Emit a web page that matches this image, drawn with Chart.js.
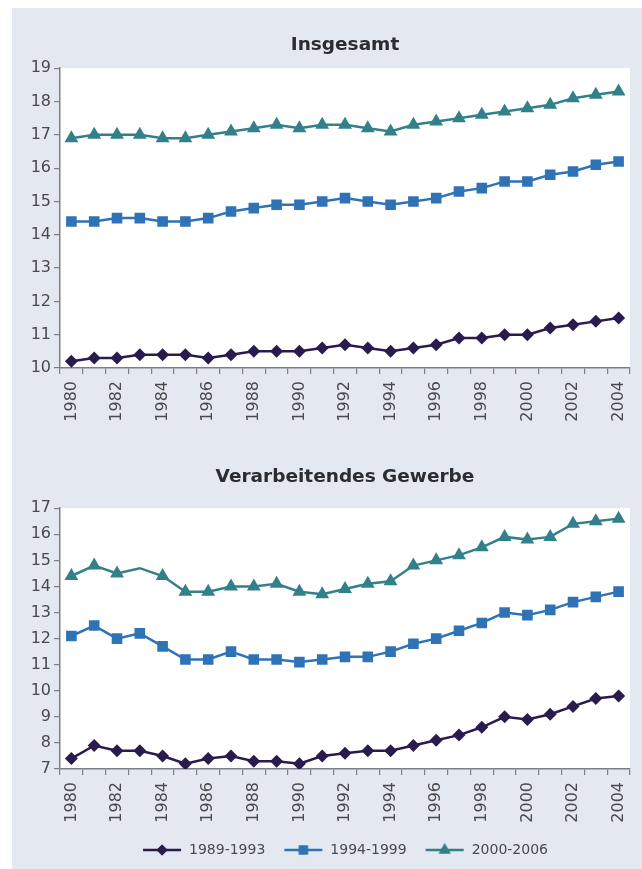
<!DOCTYPE html>
<html lang="de">
<head>
<meta charset="utf-8">
<title>Insgesamt / Verarbeitendes Gewerbe</title>
<script src="https://cdn.jsdelivr.net/npm/chart.js@4.4.1/dist/chart.umd.min.js"></script>
<style>
  html, body { margin: 0; padding: 0; background: #ffffff; }
  body { width: 642px; height: 869px; position: relative; overflow: hidden; }
  #sheet { position: absolute; left: 12px; top: 8px; width: 630px; height: 861px; background: #e4e8f0; }
  canvas { position: absolute; left: 12px; }
  #chartTop { top: 8px; }
  #chartBottom { top: 440px; }
</style>
</head>
<body>
<div id="sheet"></div>
<canvas id="chartTop" width="630" height="432"></canvas>
<canvas id="chartBottom" width="630" height="429"></canvas>
<script>
  // ---------- Data ----------
  const years = ["1980", "1981", "1982", "1983", "1984", "1985", "1986", "1987", "1988", "1989",
    "1990", "1991", "1992", "1993", "1994", "1995", "1996", "1997", "1998", "1999",
    "2000", "2001", "2002", "2003", "2004"];
  const seriesNames = ["1989-1993", "1994-1999", "2000-2006"];

  // Insgesamt
  const ins8993 = [10.2, 10.3, 10.3, 10.4, 10.4, 10.4, 10.3, 10.4, 10.5, 10.5, 10.5, 10.6, 10.7, 10.6, 10.5, 10.6, 10.7, 10.9, 10.9, 11.0, 11.0, 11.2, 11.3, 11.4, 11.5];
  const ins9499 = [14.4, 14.4, 14.5, 14.5, 14.4, 14.4, 14.5, 14.7, 14.8, 14.9, 14.9, 15.0, 15.1, 15.0, 14.9, 15.0, 15.1, 15.3, 15.4, 15.6, 15.6, 15.8, 15.9, 16.1, 16.2];
  const ins0006 = [16.9, 17.0, 17.0, 17.0, 16.9, 16.9, 17.0, 17.1, 17.2, 17.3, 17.2, 17.3, 17.3, 17.2, 17.1, 17.3, 17.4, 17.5, 17.6, 17.7, 17.8, 17.9, 18.1, 18.2, 18.3];
  const insTicks = [10, 19];

  // Verarbeitendes Gewerbe
  const gew8993 = [7.4, 7.9, 7.7, 7.7, 7.5, 7.2, 7.4, 7.5, 7.3, 7.3, 7.2, 7.5, 7.6, 7.7, 7.7, 7.9, 8.1, 8.3, 8.6, 9.0, 8.9, 9.1, 9.4, 9.7, 9.8];
  const gew9499 = [12.1, 12.5, 12.0, 12.2, 11.7, 11.2, 11.2, 11.5, 11.2, 11.2, 11.1, 11.2, 11.3, 11.3, 11.5, 11.8, 12.0, 12.3, 12.6, 13.0, 12.9, 13.1, 13.4, 13.6, 13.8];
  const gew0006 = [14.4, 14.8, 14.5, 14.7, 14.4, 13.8, 13.8, 14.0, 14.0, 14.1, 13.8, 13.7, 13.9, 14.1, 14.2, 14.8, 15.0, 15.2, 15.5, 15.9, 15.8, 15.9, 16.4, 16.5, 16.6];
  const gew0006NoMarker = ["1983"]; // im Original ohne Dreieck
  const gewTicks = [7, 17];

  // ---------- Styles ----------
  const FONT = "'DejaVu Sans', 'Liberation Sans', Arial, sans-serif";
  const colDia = "#2a1b4e";
  const colSq = "#2f73b6";
  const colTri = "#32808a";
  const axisCol = "#7d7f86";
  const txtCol = "#4a4a4e";

  const styles = [
    { color: colDia, pointStyle: "rectRot", radius: 6.5 },
    { color: colSq, pointStyle: "rect", radius: 7.5 },
    { color: colTri, pointStyle: "triangle", radius: 8 },
  ];

  const plotBg = {
    id: "plotBg",
    beforeDraw(chart) {
      const { ctx, chartArea: a } = chart;
      ctx.save();
      ctx.fillStyle = "#ffffff";
      ctx.fillRect(a.left, a.top, a.right - a.left, a.bottom - a.top);
      ctx.restore();
    },
  };

  // small line+marker icons for the legend
  function legendIcon(st) {
    const c = document.createElement("canvas");
    c.width = 40; c.height = 16;
    const g = c.getContext("2d");
    g.strokeStyle = st.color; g.lineWidth = 2.5;
    g.beginPath(); g.moveTo(1, 8); g.lineTo(39, 8); g.stroke();
    g.fillStyle = st.color;
    Chart.helpers.drawPoint(g, { pointStyle: st.pointStyle, radius: st.radius * 0.85, borderWidth: 0, rotation: 0 }, 20, 8);
    g.fill();
    return c;
  }

  function makeDatasets(values, noMarker) {
    return values.map((vals, i) => {
      const st = styles[i];
      const hide = (noMarker && i === 2) ? noMarker : [];
      return {
        label: seriesNames[i],
        data: vals,
        borderColor: st.color,
        backgroundColor: st.color,
        borderWidth: 2.5,
        pointStyle: st.pointStyle,
        pointRadius: years.map(y => hide.includes(y) ? 0 : st.radius),
        pointBorderWidth: 0,
        tension: 0,
      };
    });
  }

  function makeChart(id, title, values, range, opts) {
    return new Chart(document.getElementById(id), {
      type: "line",
      data: { labels: years, datasets: makeDatasets(values, opts.noMarker) },
      plugins: [plotBg],
      options: {
        responsive: false,
        animation: false,
        devicePixelRatio: 1,
        layout: { padding: { left: 0, right: 12, top: 0, bottom: opts.padBottom } },
        plugins: {
          title: {
            display: true,
            fullSize: false,
            text: title,
            color: "#2c2c30",
            font: { family: FONT, size: 18.5, weight: "bold", lineHeight: 1.2 },
            padding: { top: opts.titleTop, bottom: opts.titleBottom },
          },
          legend: {
            display: opts.legend,
            fullSize: false,
            position: "bottom",
            labels: {
              usePointStyle: true,
              pointStyleWidth: 40,
              padding: 18,
              color: txtCol,
              font: { family: FONT, size: 14 },
              generateLabels(chart) {
                return Chart.defaults.plugins.legend.labels.generateLabels(chart).map((l, i) => {
                  l.pointStyle = legendIcon(styles[i]);
                  return l;
                });
              },
            },
          },
          tooltip: { enabled: false },
        },
        scales: {
          x: {
            type: "category",
            offset: true,
            grid: { offset: true, drawOnChartArea: false, drawTicks: true, tickLength: 6, color: axisCol, lineWidth: 1.2 },
            border: { color: axisCol, width: 1.5 },
            ticks: {
              autoSkip: false,
              minRotation: 90,
              maxRotation: 90,
              padding: 7,
              color: txtCol,
              font: { family: FONT, size: 16 },
              callback: (v, i) => (i % 2 === 0 ? years[i] : ""),
            },
            afterFit(axis) {
              axis.height = 56;
              axis.paddingLeft = 0;
              axis.paddingRight = 0;
            },
          },
          y: {
            min: range[0],
            max: range[1],
            grid: { drawOnChartArea: false, drawTicks: true, tickLength: 6, color: axisCol, lineWidth: 1.2 },
            border: { color: axisCol, width: 1.5 },
            ticks: { stepSize: 1, padding: 3, color: txtCol, font: { family: FONT, size: 16 } },
            afterFit(axis) { axis.width = 48; },
          },
        },
      },
    });
  }

  makeChart("chartTop", "Insgesamt", [ins8993, ins9499, ins0006], insTicks,
    { legend: false, padBottom: 16, titleTop: 26, titleBottom: 12 });
  makeChart("chartBottom", "Verarbeitendes Gewerbe", [gew8993, gew9499, gew0006], gewTicks,
    { legend: true, padBottom: 2, titleTop: 26, titleBottom: 20, noMarker: gew0006NoMarker });
</script>
</body>
</html>
